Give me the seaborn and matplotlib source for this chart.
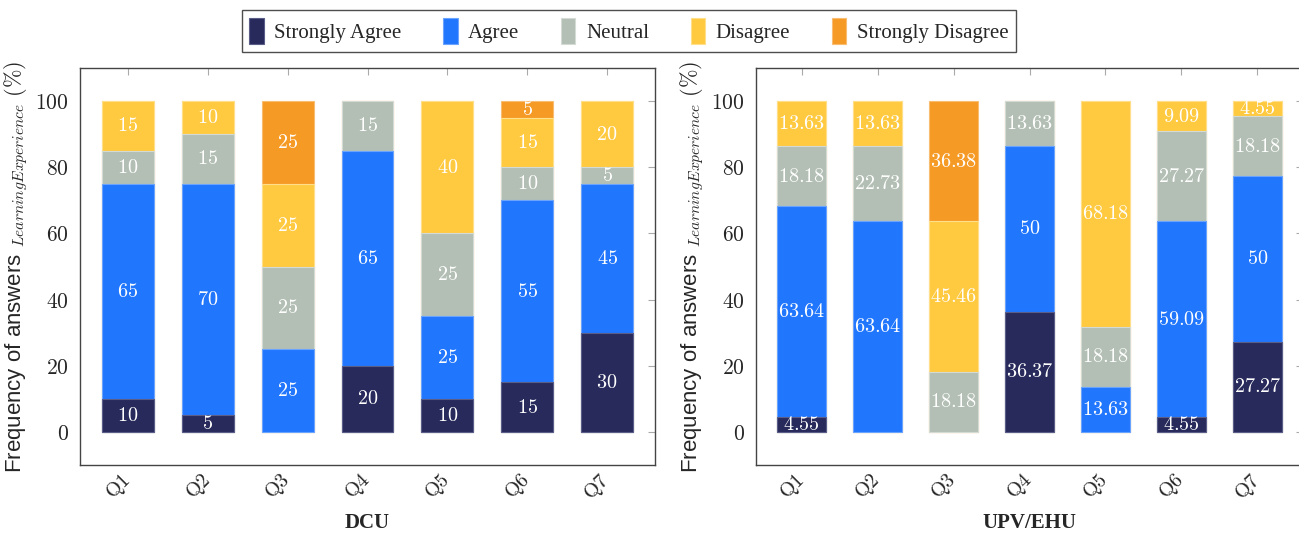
import numpy as np
import pandas as pd
import seaborn as sns
import matplotlib
matplotlib.use("Agg")
import matplotlib.pyplot as plt
from matplotlib.patches import Patch

sns.set_style("white")
plt.rcParams['font.family'] = ['Liberation Sans', 'DejaVu Sans']
plt.rcParams['mathtext.fontset'] = 'cm'

questions = ['Q1', 'Q2', 'Q3', 'Q4', 'Q5', 'Q6', 'Q7']
levels = ['Strongly Agree', 'Agree', 'Neutral', 'Disagree', 'Strongly Disagree']
colors = ['#272a5b', '#2176fe', '#b3bfb4', '#ffc940', '#f69a26']
edges = ['#5a5d88', '#6aa4ff', '#d3dbd4', '#ffdf8a', '#f9bd72']

# DCU answers (%)
dcu_sa = [10, 5, 0, 20, 10, 15, 30]
dcu_a = [65, 70, 25, 65, 25, 55, 45]
dcu_n = [10, 15, 25, 15, 25, 10, 5]
dcu_d = [15, 10, 25, 0, 40, 15, 20]
dcu_sd = [0, 0, 25, 0, 0, 5, 0]

# UPV/EHU answers (%)
upv_sa = [4.55, 0, 0, 36.37, 0, 4.55, 27.27]
upv_a = [63.64, 63.64, 0, 50, 13.63, 59.09, 50]
upv_n = [18.18, 22.73, 18.18, 13.63, 18.18, 27.27, 18.18]
upv_d = [13.63, 13.63, 45.46, 0, 68.18, 9.09, 4.55]
upv_sd = [0, 0, 36.38, 0, 0, 0, 0]

fig = plt.figure(figsize=(12.99, 5.36), dpi=100)
ax1 = fig.add_axes([80 / 1299, 1 - 465 / 536, 575 / 1299, 397 / 536])
ax2 = fig.add_axes([756 / 1299, 1 - 465 / 536, 547 / 1299, 397 / 536])


def draw_panel(ax, series, title):
    df = pd.DataFrame(dict(zip(levels, series)), index=questions)
    cum = df.cumsum(axis=1)
    # draw from the top layer down so each shorter bar covers the one behind
    for i in range(len(levels) - 1, -1, -1):
        sns.barplot(x=questions, y=cum[levels[i]].values, color=colors[i],
                    saturation=1, width=0.65, edgecolor=edges[i],
                    linewidth=0.8, ax=ax)
    # hide outlines of empty bars
    for p in ax.patches:
        if p.get_height() == 0:
            p.set_linewidth(0)
    for j, q in enumerate(questions):
        bottom = 0
        for lev in levels:
            v = df.loc[q, lev]
            if v > 0:
                ax.text(j, bottom + v / 2, r'$\mathbf{%s}$' % f'{v:g}',
                        ha='center', va='center', color='white', fontsize=14.5)
            bottom += v
    ax.set_ylim(-10, 110)
    ax.set_xlim(-0.6, 6.6)
    ax.set_yticks([0, 20, 40, 60, 80, 100])
    ax.set_yticklabels([r'$%d$' % t for t in [0, 20, 40, 60, 80, 100]], fontsize=15.5)
    ax.set_xticks(range(len(questions)))
    ax.set_xticklabels([r'$\mathrm{%s}$' % q for q in questions], fontsize=14.5,
                       rotation=45, ha='right', va='center', rotation_mode='anchor')
    ax.tick_params(axis='both', direction='in', length=5, color='#aaaaaa',
                   top=True, right=True, pad=8)
    ax.tick_params(axis='x', pad=9)
    for s in ax.spines.values():
        s.set_color('#444444')
        s.set_linewidth(1.0)
    ax.set_ylabel(r'Frequency of answers $_{LearningExperience}$ $(\%)$', fontsize=16)
    ax.text(0.5, -0.146, title, transform=ax.transAxes, ha='center', va='center',
            fontsize=15, fontweight='bold', family='Liberation Serif')


draw_panel(ax1, [dcu_sa, dcu_a, dcu_n, dcu_d, dcu_sd], 'DCU')
draw_panel(ax2, [upv_sa, upv_a, upv_n, upv_d, upv_sd], 'UPV/EHU')

handles = [Patch(facecolor=c, edgecolor=e, linewidth=0.8) for c, e in zip(colors, edges)]
fig.legend(handles, levels, loc='upper center', bbox_to_anchor=(0.484, 1.0),
           ncol=5, frameon=True, fancybox=False, edgecolor='#222222',
           prop={'family': 'Liberation Serif', 'size': 15},
           handlelength=0.7, handleheight=1.6, columnspacing=2.0,
           handletextpad=0.5, borderpad=0.35)

fig.savefig('out.png', dpi=100)
